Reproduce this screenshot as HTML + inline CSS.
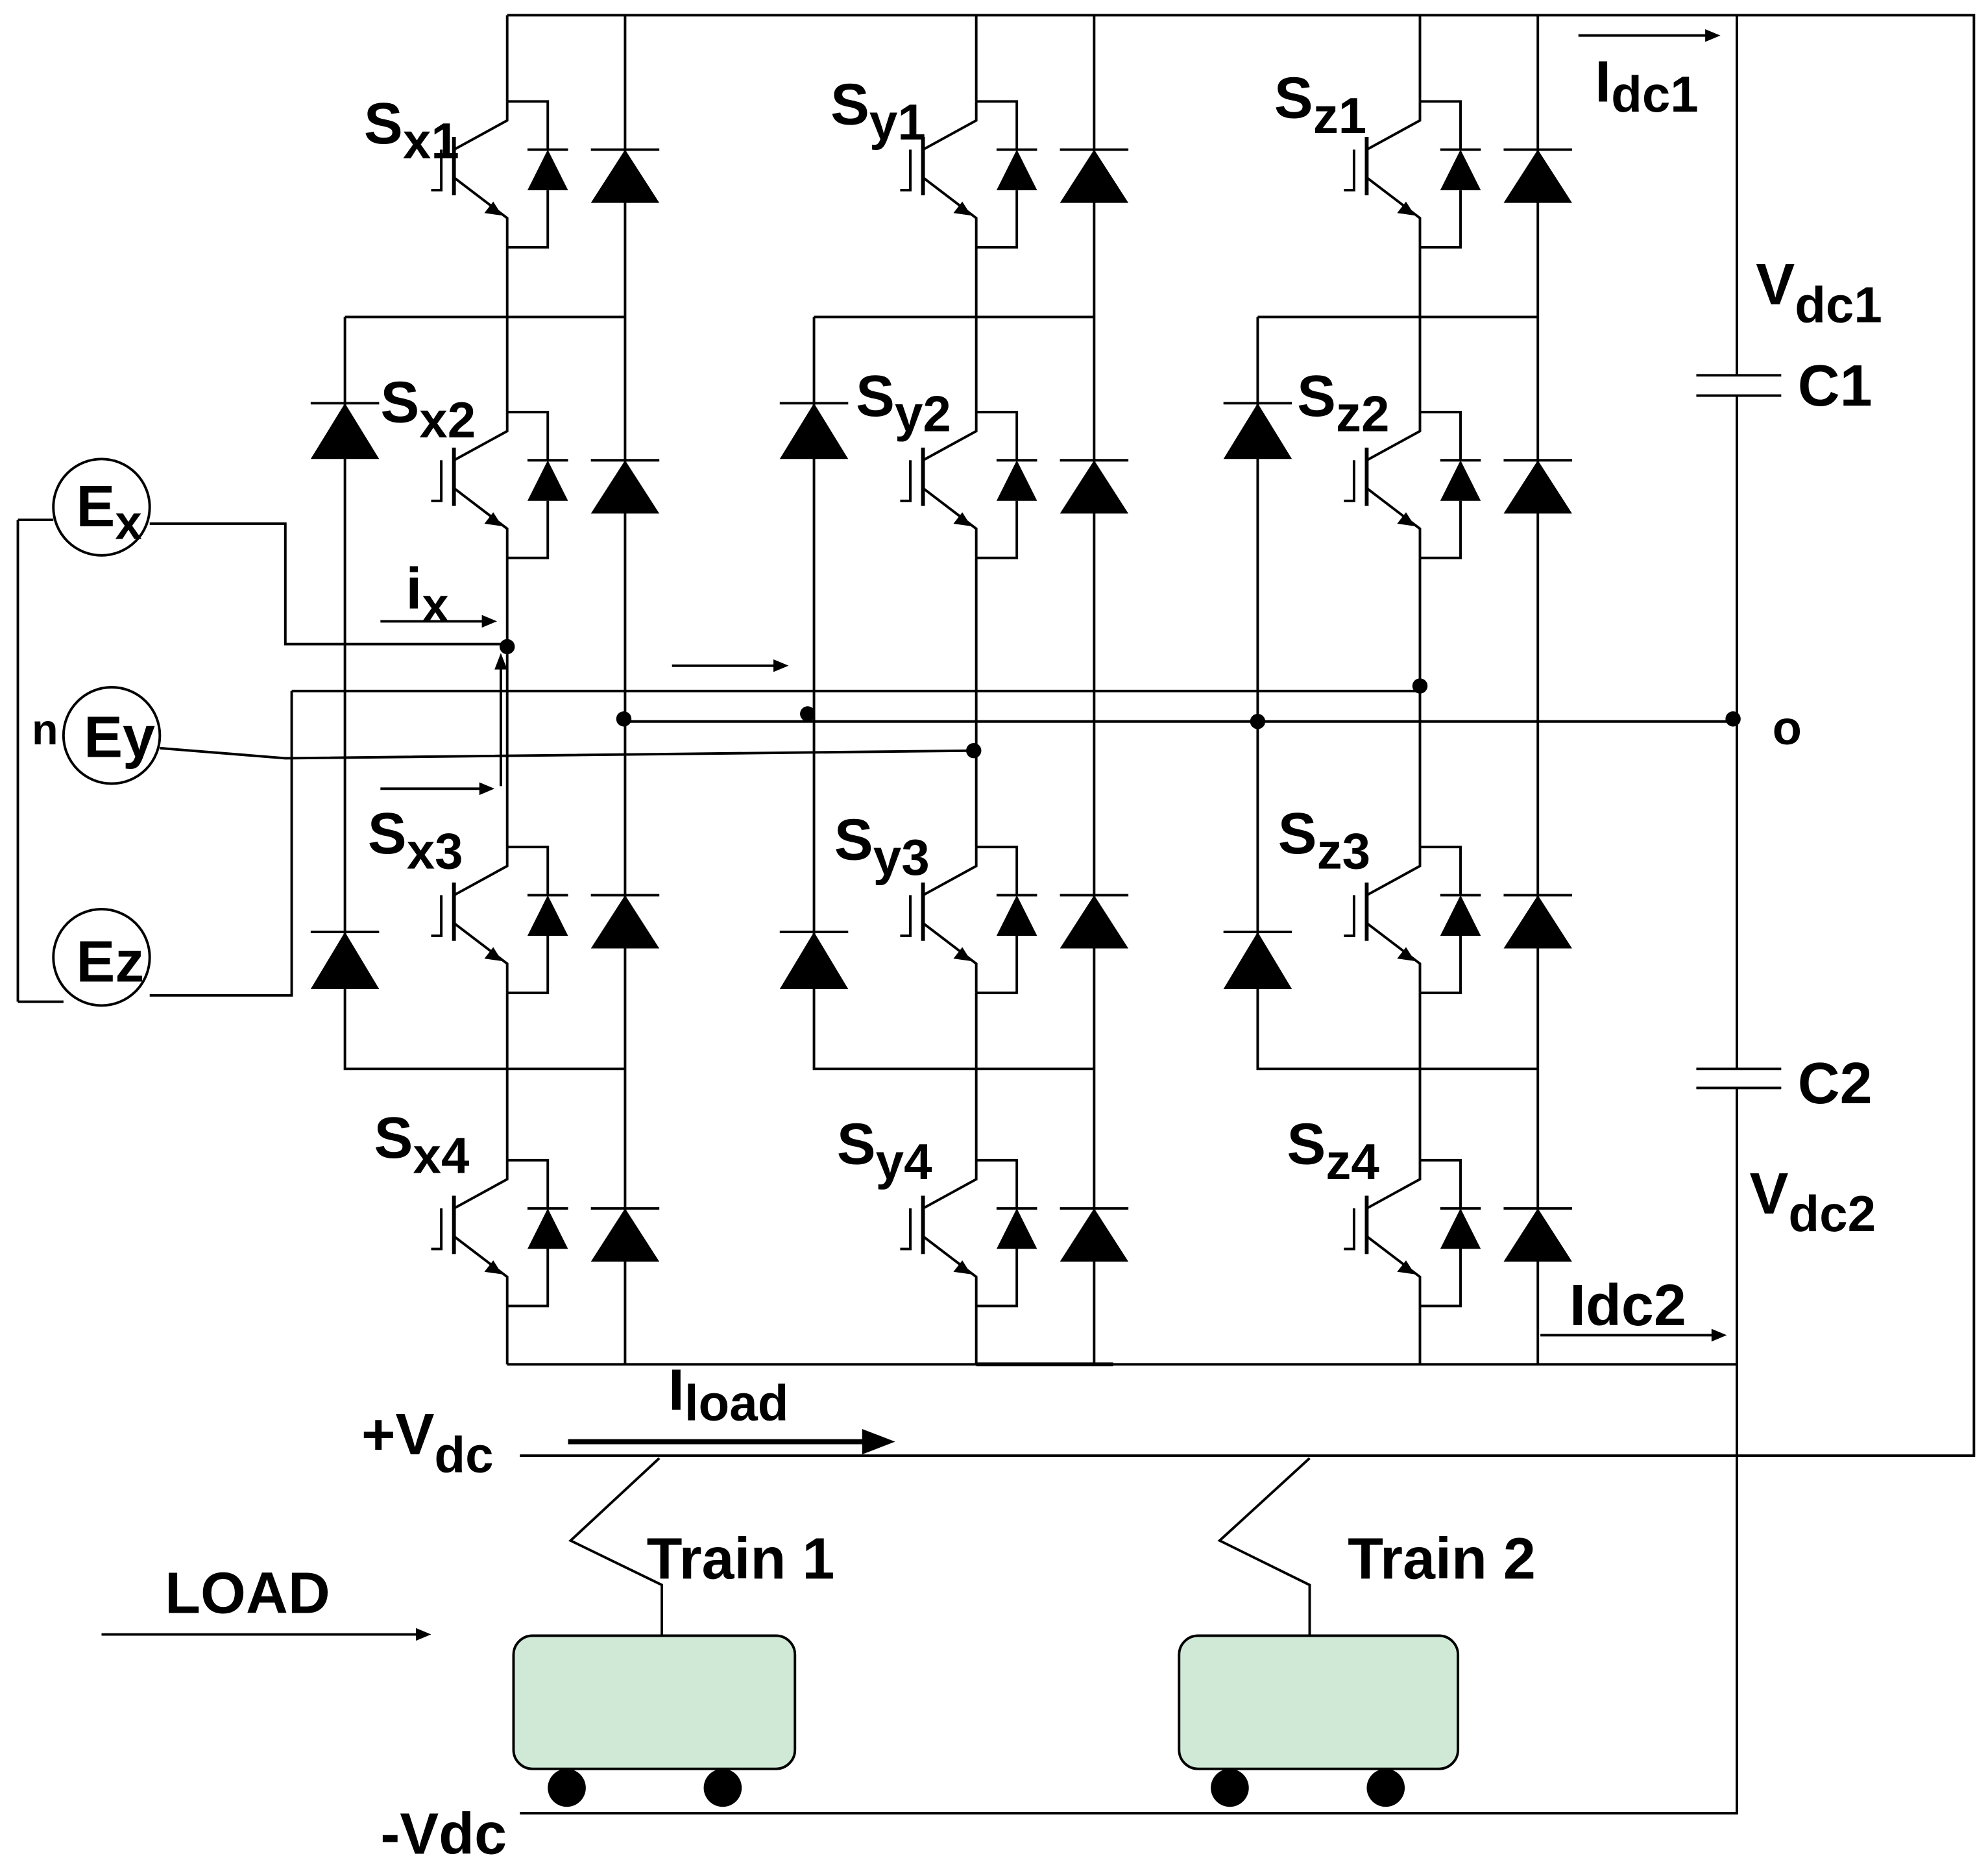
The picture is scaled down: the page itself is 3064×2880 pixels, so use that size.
<!DOCTYPE html>
<html><head><meta charset="utf-8"><style>html,body{margin:0;padding:0;background:#fff}svg{display:block}</style></head>
<body>
<svg xmlns="http://www.w3.org/2000/svg" xmlns:xlink="http://www.w3.org/1999/xlink" width="3064" height="2880" viewBox="0 0 1568 1474">
<defs>
<g id="igbt">
 <path d="M400,80 V95 L358,118 M358,140 L400,172 V195 M348,118 V150 H340 M400,80 H432 V118 M416,118 H448 M432,150 V195 H400" fill="none" stroke="#000" stroke-width="2"/>
 <path d="M358,108 V154" stroke="#000" stroke-width="3"/>
 <polygon points="432,118 416,150 448,150" fill="#000"/>
 <polygon points="396,170 382,168 389,159" fill="#000"/>
 <path d="M466,118 H520" stroke="#000" stroke-width="2"/>
 <polygon points="493,118 466,160 520,160" fill="#000"/>
</g>
<g id="leg">
 <use xlink:href="#igbt"/>
 <use xlink:href="#igbt" transform="translate(0,245)"/>
 <use xlink:href="#igbt" transform="translate(0,588)"/>
 <use xlink:href="#igbt" transform="translate(0,835)"/>
 <path d="M400,12 V80 M400,195 V325 M400,440 V668 M400,783 V915 M400,1030 V1076 M493,12 V1076 M272,250 H493 M272,250 V843 H493" fill="none" stroke="#000" stroke-width="2"/>
 <path d="M245,318 H299 M245,735 H299" stroke="#000" stroke-width="2"/>
 <polygon points="272,318 245,362 299,362" fill="#000"/>
 <polygon points="272,735 245,780 299,780" fill="#000"/>
</g>
</defs>
<use xlink:href="#leg"/>
<use xlink:href="#leg" transform="translate(370,0)"/>
<use xlink:href="#leg" transform="translate(720,0)"/>
<g fill="none" stroke="#000" stroke-width="2">
 <path d="M400,12 H1557 V1148 H410"/>
 <path d="M1370,12 V296 M1370,312 V843 M1370,858 V1430 H410"/>
 <path d="M1338,296 H1405 M1338,312 H1405 M1338,843 H1405 M1338,858 H1405"/>
 <path d="M400,1076 H1370"/>
 <path d="M492,569 H1367"/>
 <path d="M14,410 V790 M14,410 H42 M14,790 H50"/>
 <path d="M118,413 H225 V508 H400"/>
 <path d="M126,590 L225,598 L768,592"/>
 <path d="M230,545 H1120 M230,545 V785 H118"/>
 <path d="M395,620 V525"/>
 <path d="M300,490 H385 M300,622 H383 M530,525 H615 M1245,28 H1350 M1215,1053 H1355 M80,1289 H333"/>
 <path d="M520,1150 L450,1215 L522,1250 V1290 M1033,1150 L962,1215 L1033,1250 V1290"/>
</g>
<path d="M770,1076 H878" stroke="#000" stroke-width="3"/>
<path d="M448,1137 H690" stroke="#000" stroke-width="4"/>
<polygon points="706,1137 680,1127 680,1147" fill="#000"/>
<g fill="#000">
 <polygon points="392,490 380,485 380,495"/><polygon points="390,622 378,617 378,627"/>
 <polygon points="622,525 610,520 610,530"/><polygon points="1357,28 1345,23 1345,33"/>
 <polygon points="1362,1053 1350,1048 1350,1058"/><polygon points="340,1289 328,1284 328,1294"/>
 <polygon points="395,515 390,528 400,528"/>
 <circle cx="400" cy="510" r="6"/><circle cx="492" cy="567" r="6"/><circle cx="637" cy="563" r="6"/>
 <circle cx="768" cy="592" r="6"/><circle cx="992" cy="569" r="6"/><circle cx="1120" cy="541" r="6"/><circle cx="1367" cy="567" r="6"/>
 <circle cx="447" cy="1410" r="15"/><circle cx="570" cy="1410" r="15"/><circle cx="970" cy="1410" r="15"/><circle cx="1093" cy="1410" r="15"/>
</g>
<rect x="405" y="1290" width="222" height="105" rx="15" fill="#cfe9d6" stroke="#000" stroke-width="2"/>
<rect x="930" y="1290" width="220" height="105" rx="15" fill="#cfe9d6" stroke="#000" stroke-width="2"/>
<g fill="#fff" stroke="#000" stroke-width="2">
 <circle cx="80" cy="400" r="38"/><circle cx="88" cy="580" r="38"/><circle cx="80" cy="755" r="38"/>
</g>
<g font-family="Liberation Sans, sans-serif" font-weight="bold" font-size="46" fill="#000">
 <text x="287" y="113">S<tspan font-size="40" dy="12">x1</tspan></text>
 <text x="655" y="98">S<tspan font-size="40" dy="12">y1</tspan></text>
 <text x="1005" y="93">S<tspan font-size="40" dy="12">z1</tspan></text>
 <text x="300" y="333">S<tspan font-size="40" dy="12">x2</tspan></text>
 <text x="675" y="328">S<tspan font-size="40" dy="12">y2</tspan></text>
 <text x="1023" y="328">S<tspan font-size="40" dy="12">z2</tspan></text>
 <text x="290" y="673">S<tspan font-size="40" dy="12">x3</tspan></text>
 <text x="658" y="678">S<tspan font-size="40" dy="12">y3</tspan></text>
 <text x="1008" y="673">S<tspan font-size="40" dy="12">z3</tspan></text>
 <text x="295" y="913">S<tspan font-size="40" dy="12">x4</tspan></text>
 <text x="660" y="918">S<tspan font-size="40" dy="12">y4</tspan></text>
 <text x="1015" y="918">S<tspan font-size="40" dy="12">z4</tspan></text>
 <text x="1258" y="80">I<tspan font-size="40" dy="8">dc1</tspan></text>
 <text x="1385" y="240">V<tspan font-size="40" dy="14">dc1</tspan></text>
 <text x="1418" y="320">C1</text>
 <text x="1418" y="870">C2</text>
 <text x="1380" y="957">V<tspan font-size="40" dy="14">dc2</tspan></text>
 <text x="1398" y="587" font-size="38">o</text>
 <text x="25" y="587" font-size="34">n</text>
 <text x="1238" y="1045">Idc2</text>
 <text x="527" y="1112">I<tspan font-size="40" dy="8">load</tspan></text>
 <text x="285" y="1147">+V<tspan font-size="40" dy="14">dc</tspan></text>
 <text x="300" y="1462">-Vdc</text>
 <text x="130" y="1272">LOAD</text>
 <text x="510" y="1245">Train 1</text>
 <text x="1063" y="1245">Train 2</text>
 <text x="60" y="415">E<tspan font-size="38" dy="10">x</tspan></text>
 <text x="66" y="597">Ey</text>
 <text x="60" y="774">Ez</text>
 <text x="320" y="480">i<tspan font-size="38" dy="10">x</tspan></text>
</g>
</svg>
</body></html>
